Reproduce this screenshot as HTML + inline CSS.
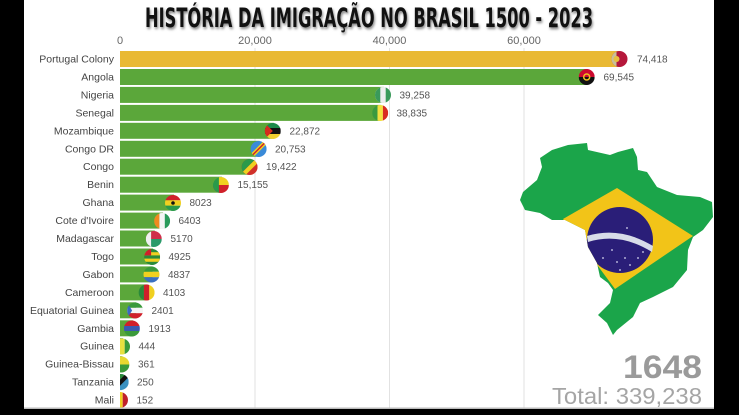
<!DOCTYPE html>
<html><head><meta charset="utf-8"><style>
html,body{margin:0;padding:0;background:#fff;}
svg{display:block;}
</style></head><body>
<svg width="739" height="415" viewBox="0 0 739 415" xmlns="http://www.w3.org/2000/svg">
<defs>
<clipPath id="fc"><circle cx="0" cy="0" r="8"/></clipPath>
<clipPath id="left"><rect x="120" y="0" width="600" height="415"/></clipPath>
<clipPath id="map"><polygon points="540,158 552,150 568,145 587,143 588,150 610,155 618,152 633,148 637,157 638,170 647,172 657,187 677,195 700,197 712,202 713,217 703,230 693,237 688,250 687,270 673,287 653,297 640,303 633,317 617,330 613,335 607,323 598,315 610,303 613,290 608,283 600,277 597,263 588,247 585,230 565,220 552,220 540,213 525,210 520,200 523,192 537,180 542,167"/></clipPath>
<filter id="sh" x="-5%" y="-30%" width="110%" height="160%"><feGaussianBlur stdDeviation="1.2"/></filter>
</defs>
<rect x="0" y="0" width="739" height="415" fill="#fff"/>

<!-- title -->
<text x="146" y="29" font-family="'Liberation Sans Narrow','DejaVu Sans Condensed','Liberation Sans',sans-serif" font-weight="bold" font-size="27" textLength="448" lengthAdjust="spacingAndGlyphs" fill="#888" filter="url(#sh)">HISTÓRIA DA IMIGRAÇÃO NO BRASIL 1500 - 2023</text>
<text x="145" y="27" font-family="'Liberation Sans Narrow','DejaVu Sans Condensed','Liberation Sans',sans-serif" font-weight="bold" font-size="27" textLength="448" lengthAdjust="spacingAndGlyphs" fill="#111">HISTÓRIA DA IMIGRAÇÃO NO BRASIL 1500 - 2023</text>

<!-- ticks -->
<g font-family="'Liberation Sans',sans-serif" font-size="11" fill="#666" text-anchor="middle">
<text x="120" y="44">0</text>
<text x="255" y="44">20,000</text>
<text x="389.5" y="44">40,000</text>
<text x="524" y="44">60,000</text>
</g>
<g stroke="#e2e2e2" stroke-width="1">
<line x1="255" y1="48" x2="255" y2="408"/>
<line x1="389.5" y1="48" x2="389.5" y2="408"/>
<line x1="524" y1="48" x2="524" y2="408"/>
</g>

<!-- bars -->
<g>
<rect x="120" y="51" width="500.5" height="16" fill="#E9B934"/>
<rect x="120" y="69" width="467.7" height="16" fill="#5BA73A"/>
<rect x="120" y="86.9" width="264" height="16" fill="#5BA73A"/>
<rect x="120" y="104.9" width="261.2" height="16" fill="#5BA73A"/>
<rect x="120" y="122.8" width="153.8" height="16" fill="#5BA73A"/>
<rect x="120" y="140.8" width="139.6" height="16" fill="#5BA73A"/>
<rect x="120" y="158.7" width="130.6" height="16" fill="#5BA73A"/>
<rect x="120" y="176.7" width="101.9" height="16" fill="#5BA73A"/>
<rect x="120" y="194.6" width="54" height="16" fill="#5BA73A"/>
<rect x="120" y="212.6" width="43.1" height="16" fill="#5BA73A"/>
<rect x="120" y="230.5" width="34.8" height="16" fill="#5BA73A"/>
<rect x="120" y="248.5" width="33.1" height="16" fill="#5BA73A"/>
<rect x="120" y="266.4" width="32.5" height="16" fill="#5BA73A"/>
<rect x="120" y="284.4" width="27.6" height="16" fill="#5BA73A"/>
<rect x="120" y="302.3" width="16.1" height="16" fill="#5BA73A"/>
<rect x="120" y="320.3" width="12.9" height="16" fill="#5BA73A"/>
<rect x="120" y="338.2" width="3" height="16" fill="#5BA73A"/>
<rect x="120" y="356.2" width="2.4" height="16" fill="#5BA73A"/>
<rect x="120" y="374.1" width="1.7" height="16" fill="#5BA73A"/>
<rect x="120" y="392.1" width="1" height="16" fill="#5BA73A"/>
</g>

<!-- labels -->
<g font-family="'Liberation Sans',sans-serif" font-size="10.5" fill="#444" text-anchor="end">
<text x="114" y="62.5">Portugal Colony</text>
<text x="114" y="80.5">Angola</text>
<text x="114" y="98.4">Nigeria</text>
<text x="114" y="116.4">Senegal</text>
<text x="114" y="134.3">Mozambique</text>
<text x="114" y="152.3">Congo DR</text>
<text x="114" y="170.2">Congo</text>
<text x="114" y="188.2">Benin</text>
<text x="114" y="206.1">Ghana</text>
<text x="114" y="224.1">Cote d'Ivoire</text>
<text x="114" y="242">Madagascar</text>
<text x="114" y="260">Togo</text>
<text x="114" y="277.9">Gabon</text>
<text x="114" y="295.9">Cameroon</text>
<text x="114" y="313.8">Equatorial Guinea</text>
<text x="114" y="331.8">Gambia</text>
<text x="114" y="349.7">Guinea</text>
<text x="114" y="367.7">Guinea-Bissau</text>
<text x="114" y="385.6">Tanzania</text>
<text x="114" y="403.6">Mali</text>
</g>

<!-- values -->
<g font-family="'Liberation Sans',sans-serif" font-size="10" fill="#555">
<text x="637" y="62.5">74,418</text>
<text x="603.5" y="80.5">69,545</text>
<text x="399.5" y="98.4">39,258</text>
<text x="396.5" y="116.4">38,835</text>
<text x="289.5" y="134.3">22,872</text>
<text x="275" y="152.3">20,753</text>
<text x="266" y="170.2">19,422</text>
<text x="237.5" y="188.2">15,155</text>
<text x="189.5" y="206.1">8023</text>
<text x="178.5" y="224.1">6403</text>
<text x="170.5" y="242">5170</text>
<text x="168.5" y="260">4925</text>
<text x="168" y="277.9">4837</text>
<text x="163" y="295.9">4103</text>
<text x="151.5" y="313.8">2401</text>
<text x="148.5" y="331.8">1913</text>
<text x="138.5" y="349.7">444</text>
<text x="138" y="367.7">361</text>
<text x="137" y="385.6">250</text>
<text x="136.5" y="403.6">152</text>
</g>

<!-- flags -->
<g clip-path="url(#left)">
<g transform="translate(619.5,59)"><g clip-path="url(#fc)"><rect x="-8" y="-8" width="16" height="16" fill="#b5173b"/><rect x="-8" y="-8" width="5" height="16" fill="#c9c09a"/><circle cx="-3" cy="0" r="3" fill="#e8c040"/></g></g>
<g transform="translate(586.7,77)"><g clip-path="url(#fc)"><rect x="-8" y="-8" width="16" height="8" fill="#cc092f"/><rect x="-8" y="0" width="16" height="8" fill="#111"/><circle cx="0" cy="0" r="3" fill="none" stroke="#f0c020" stroke-width="1.5"/></g></g>
<g transform="translate(383,95)"><g clip-path="url(#fc)"><rect x="-8" y="-8" width="16" height="16" fill="#eee"/><rect x="-8" y="-8" width="5.3" height="16" fill="#3a9a5a"/><rect x="2.7" y="-8" width="5.3" height="16" fill="#3a9a5a"/></g></g>
<g transform="translate(380.2,113)"><g clip-path="url(#fc)"><rect x="-8" y="-8" width="5.3" height="16" fill="#3a9a3f"/><rect x="-2.7" y="-8" width="5.4" height="16" fill="#f4e040"/><rect x="2.7" y="-8" width="5.3" height="16" fill="#d92b23"/></g></g>
<g transform="translate(272.8,131)"><g clip-path="url(#fc)"><rect x="-8" y="-8" width="16" height="5" fill="#1a8a4a"/><rect x="-8" y="-3" width="16" height="6" fill="#111"/><rect x="-8" y="3" width="16" height="5" fill="#f0d030"/><polygon points="-8,-8 0,0 -8,8" fill="#d52b1e"/></g></g>
<g transform="translate(258.6,149)"><g clip-path="url(#fc)"><rect x="-8" y="-8" width="16" height="16" fill="#3a8ad8"/><polygon points="-8,5 5,-8 8,-8 8,-5 -5,8 -8,8" fill="#f0d020"/><polygon points="-8,7 7,-8 8,-7 -7,8" fill="#d0202a"/></g></g>
<g transform="translate(249.6,167)"><g clip-path="url(#fc)"><rect x="-8" y="-8" width="16" height="16" fill="#d0302a"/><polygon points="-8,-8 6,-8 -8,6" fill="#2a9a4a"/><polygon points="6,-8 8,-8 8,-4 -4,8 -8,8 -8,6" fill="#f0d020"/></g></g>
<g transform="translate(220.9,185)"><g clip-path="url(#fc)"><rect x="-8" y="-8" width="16" height="8" fill="#f0d020"/><rect x="-8" y="0" width="16" height="8" fill="#d0202a"/><rect x="-8" y="-8" width="6" height="16" fill="#2a9a4a"/></g></g>
<g transform="translate(173,203)"><g clip-path="url(#fc)"><rect x="-8" y="-8" width="16" height="5.3" fill="#d0202a"/><rect x="-8" y="-2.7" width="16" height="5.4" fill="#f0d020"/><rect x="-8" y="2.7" width="16" height="5.3" fill="#2a9a4a"/><circle cx="0" cy="0" r="1.8" fill="#111"/></g></g>
<g transform="translate(162.1,221)"><g clip-path="url(#fc)"><rect x="-8" y="-8" width="5.3" height="16" fill="#f08a20"/><rect x="-2.7" y="-8" width="5.4" height="16" fill="#f4f4f4"/><rect x="2.7" y="-8" width="5.3" height="16" fill="#2a9a5a"/></g></g>
<g transform="translate(153.8,239)"><g clip-path="url(#fc)"><rect x="-8" y="-8" width="16" height="8" fill="#d0304a"/><rect x="-8" y="0" width="16" height="8" fill="#2a9a6a"/><rect x="-8" y="-8" width="5.3" height="16" fill="#f0f0f0"/></g></g>
<g transform="translate(152.1,257)"><g clip-path="url(#fc)"><rect x="-8" y="-8" width="16" height="16" fill="#2a8a3a"/><rect x="-8" y="-4.8" width="16" height="3.2" fill="#f0d020"/><rect x="-8" y="1.6" width="16" height="3.2" fill="#f0d020"/><rect x="-8" y="-8" width="7" height="6.4" fill="#d0202a"/></g></g>
<g transform="translate(151.5,274.5)"><g clip-path="url(#fc)"><rect x="-8" y="-8" width="16" height="5.3" fill="#3a9a3a"/><rect x="-8" y="-2.7" width="16" height="5.4" fill="#f0d020"/><rect x="-8" y="2.7" width="16" height="5.3" fill="#3a70c0"/></g></g>
<g transform="translate(146.6,292.5)"><g clip-path="url(#fc)"><rect x="-8" y="-8" width="5.3" height="16" fill="#2a8a3a"/><rect x="-2.7" y="-8" width="5.4" height="16" fill="#d0202a"/><rect x="2.7" y="-8" width="5.3" height="16" fill="#f0d020"/></g></g>
<g transform="translate(135.1,310.5)"><g clip-path="url(#fc)"><rect x="-8" y="-8" width="16" height="5.3" fill="#3a9a3a"/><rect x="-8" y="-2.7" width="16" height="5.4" fill="#f4f4f4"/><rect x="-8" y="2.7" width="16" height="5.3" fill="#d0202a"/><polygon points="-8,-8 -3,0 -8,8" fill="#3a6ac0"/></g></g>
<g transform="translate(131.9,328.5)"><g clip-path="url(#fc)"><rect x="-8" y="-8" width="16" height="5.5" fill="#d0202a"/><rect x="-8" y="-2.5" width="16" height="5" fill="#3a5ab0"/><rect x="-8" y="2.5" width="16" height="5.5" fill="#3a9a3a"/></g></g>
<g transform="translate(122,346.5)"><g clip-path="url(#fc)"><rect x="-8" y="-8" width="5.3" height="16" fill="#d0202a"/><rect x="-2.7" y="-8" width="5.4" height="16" fill="#e8e040"/><rect x="2.7" y="-8" width="5.3" height="16" fill="#3a9a3a"/></g></g>
<g transform="translate(121.4,364.5)"><g clip-path="url(#fc)"><rect x="-8" y="-8" width="16" height="8" fill="#e8d830"/><rect x="-8" y="0" width="16" height="8" fill="#3a9a3a"/><rect x="-8" y="-8" width="6" height="16" fill="#d0202a"/></g></g>
<g transform="translate(120.7,382)"><g clip-path="url(#fc)"><rect x="-8" y="-8" width="16" height="16" fill="#3a90c0"/><polygon points="-8,-8 6,-8 -8,6" fill="#2a8a3a"/><polygon points="5,-8 8,-8 8,-5 -5,8 -8,8 -8,5" fill="#111"/></g></g>
<g transform="translate(120,400)"><g clip-path="url(#fc)"><rect x="-8" y="-8" width="5.3" height="16" fill="#2a9a3a"/><rect x="-2.7" y="-8" width="5.4" height="16" fill="#f0d020"/><rect x="2.7" y="-8" width="5.3" height="16" fill="#c0202a"/></g></g>
</g>

<!-- Brazil map -->
<g clip-path="url(#map)">
<rect x="515" y="140" width="205" height="200" fill="#1ba54a"/>
<polygon points="563,219 617,188 693,236 615,289" fill="#f2c418"/>
<circle cx="620" cy="240" r="33" fill="#2a1e78"/>
<path d="M587,236 Q620,226 653,246 L652,252 Q620,232 588,242 Z" fill="#d8dce8"/>
<g fill="#d8d8f0">
<circle cx="612" cy="250" r="0.9"/><circle cx="625" cy="258" r="0.9"/><circle cx="617" cy="262" r="0.9"/><circle cx="630" cy="265" r="0.9"/><circle cx="638" cy="258" r="0.9"/><circle cx="603" cy="258" r="0.9"/><circle cx="620" cy="270" r="0.9"/><circle cx="643" cy="252" r="0.9"/><circle cx="627" cy="228" r="0.9"/>
</g>
</g>

<!-- counter -->
<text x="623" y="378" font-family="'Liberation Sans',sans-serif" font-weight="bold" font-size="32" textLength="79" lengthAdjust="spacingAndGlyphs" fill="#9a9a9a">1648</text>
<text x="552" y="404" font-family="'Liberation Sans',sans-serif" font-size="23" textLength="150" lengthAdjust="spacingAndGlyphs" fill="#a5a5a5">Total: 339,238</text>

<!-- frame -->
<rect x="0" y="407.5" width="739" height="1.5" fill="#bbb"/>
<rect x="0" y="409" width="739" height="6" fill="#000"/>
<rect x="0" y="0" width="24" height="415" fill="#000"/>
<rect x="714" y="0" width="25" height="415" fill="#000"/>
</svg>
</body></html>
